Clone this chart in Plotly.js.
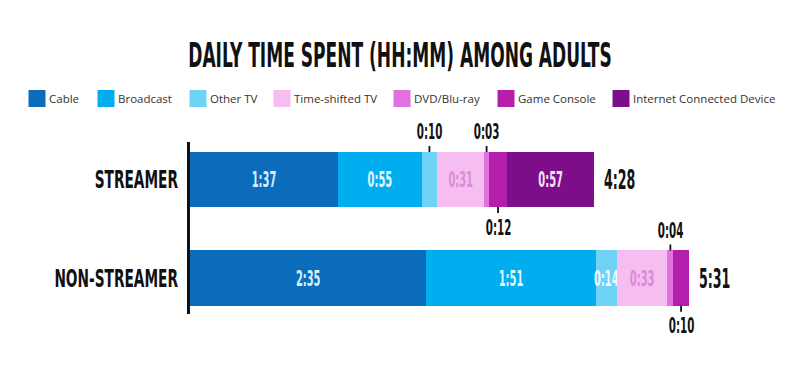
<!DOCTYPE html>
<html>
<head>
<meta charset="utf-8">
<script src="https://cdn.plot.ly/plotly-3.0.1.min.js"></script>
<style>html,body{margin:0;padding:0;background:#fff;}#chart{width:800px;height:371px;}</style>
</head>
<body>
<div id="chart"></div>
<script>
// ---- data (minutes per day) ----
const categories = ["STREAMER", "NON-STREAMER"];
const seriesNames = ["Cable", "Broadcast", "Other TV", "Time-shifted TV", "DVD/Blu-ray", "Game Console", "Internet Connected Device"];
const cable = [97, 155];
const broadcast = [55, 111];
const otherTV = [10, 14];
const timeShifted = [31, 33];
const dvdBluray = [3, 4];
const gameConsole = [12, 10];
const internetDevice = [57, 0];
const totalLabels = ["4:28", "5:31"];

// ---- styles ----
const colors = ["#0b6cbb", "#00aeef", "#6fd3f7", "#f6bdf0", "#df72df", "#b41eab", "#7d0e8a"];
const insideTextColors = ["#dcedfa", "#e2f6fe", "#f2fbff", "#d98ad9", "#ffffff", "#ffffff", "#f2e2f4"];
const outsideSide = [0, 0, -1, -1, -1, 1, -1]; // -1 above, 1 below
const legendTextStarts = [49, 118, 210, 294, 414, 518, 633]; // px from left
const condFont = "'DejaVu Sans Condensed', 'DejaVu Sans', sans-serif";
const barWidth = 0.56;
const smallLimit = 12;

const series = [cable, broadcast, otherTV, timeShifted, dvdBluray, gameConsole, internetDevice];
function fmt(m) { const h = Math.floor(m / 60), mm = m % 60; return h + ":" + (mm < 10 ? "0" : "") + mm; }

const traces = series.map((vals, i) => ({
  type: "bar",
  orientation: "h",
  name: seriesNames[i],
  legend: i === 0 ? "legend" : "legend" + (i + 1),
  y: categories,
  x: vals,
  width: barWidth,
  marker: { color: colors[i], line: { width: 0 } },
  text: vals.map(v => (v > smallLimit ? fmt(v) : "")),
  textposition: "inside",
  insidetextanchor: "middle",
  textangle: 0,
  constraintext: "none",
  textfont: { family: condFont, size: 22, color: insideTextColors[i], weight: "bold" },
  hoverinfo: "skip"
}));

const annotations = [];
categories.forEach((cat, ci) => {
  let cum = 0;
  series.forEach((vals, si) => {
    const v = vals[ci];
    if (v > 0 && v <= smallLimit && outsideSide[si] !== 0) {
      const side = outsideSide[si];
      annotations.push({
        x: cum + v / 2, y: ci + side * barWidth / 2, xref: "x", yref: "y",
        text: fmt(v), showarrow: true, arrowhead: 0, arrowwidth: 1.8, arrowcolor: "#111",
        standoff: 0, startstandoff: 0, ax: 0, ay: side * 20,
        font: { family: condFont, size: 22, color: "#111", weight: "bold" }
      });
    }
    cum += v;
  });
  annotations.push({
    x: cum, y: ci, xref: "x", yref: "y", text: totalLabels[ci], showarrow: false,
    xanchor: "left", xshift: 8,
    font: { family: condFont, size: 27, color: "#111", weight: "bold" }
  });
});

const layout = {
  width: 800, height: 371,
  paper_bgcolor: "#ffffff", plot_bgcolor: "#ffffff",
  margin: { l: 190, r: 61, t: 142, b: 57, autoexpand: false },
  barmode: "stack",
  bargap: 0,
  title: {
    text: "DAILY TIME SPENT (HH:MM) AMONG ADULTS",
    x: 0.5, xref: "container", xanchor: "center",
    y: 1 - 55 / 371, yref: "container", yanchor: "middle",
    font: { family: condFont, size: 33, color: "#111", weight: "bold" }
  },
  showlegend: true,
  xaxis: {
    range: [0, 360], showgrid: false, zeroline: false, showticklabels: false,
    ticks: "", showline: false, fixedrange: true
  },
  yaxis: {
    type: "category", range: [1 + 0.365, -0.381],
    showgrid: false, zeroline: false, showline: true, linecolor: "#111", linewidth: 3,
    ticks: "", ticklabelstandoff: 4,
    tickfont: { family: condFont, size: 25, color: "#111", weight: "bold" },
    fixedrange: true
  },
  annotations: annotations,
  font: { family: "'Open Sans', sans-serif" }
};

legendTextStarts.forEach((tx, i) => {
  layout[i === 0 ? "legend" : "legend" + (i + 1)] = {
    orientation: "h", xref: "container", yref: "container",
    x: (tx - 40) / 800, y: 1 - 98.5 / 371, xanchor: "left", yanchor: "middle",
    font: { family: "'Open Sans', sans-serif", size: 11.5, color: "#333" },
    bgcolor: "rgba(0,0,0,0)", borderwidth: 0, itemclick: false
  };
});

function squeeze(el, s, mode) {
  if (el.getAttribute("data-sq")) return;
  const bb = el.getBBox();
  const cx = mode === "start" ? bb.x : mode === "end" ? bb.x + bb.width : bb.x + bb.width / 2;
  const t = el.getAttribute("transform") || "";
  el.setAttribute("transform", t + " translate(" + cx + ",0) scale(" + s + ",1) translate(" + (-cx) + ",0)");
  el.setAttribute("data-sq", "1");
}

function polish(gd) {
  gd.querySelectorAll(".gtitle").forEach(el => squeeze(el, 0.575, "middle"));
  gd.querySelectorAll(".ytick text").forEach(el => squeeze(el, 0.61, "end"));
  gd.querySelectorAll(".bartext").forEach(el => squeeze(el, 0.5, "middle"));
  gd.querySelectorAll("g.annotation").forEach(g => {
    const idx = +g.getAttribute("data-index");
    const a = layout.annotations[idx];
    const el = g.querySelector("text.annotation-text");
    if (el && a) squeeze(el, 0.52, a.xanchor === "left" ? "start" : "middle");
  });
  // larger legend squares, sitting closer to their labels
  gd.querySelectorAll(".legendpoints path").forEach(p => p.setAttribute("d", "M16.5,8.5H-0.5V-8.5H16.5Z"));
}

Plotly.newPlot("chart", traces, layout, { displayModeBar: false, staticPlot: true }).then(gd => {
  polish(gd);
  gd.on("plotly_afterplot", () => polish(gd));
  setTimeout(() => polish(gd), 50);
  setTimeout(() => polish(gd), 300);
});
</script>
</body>
</html>
